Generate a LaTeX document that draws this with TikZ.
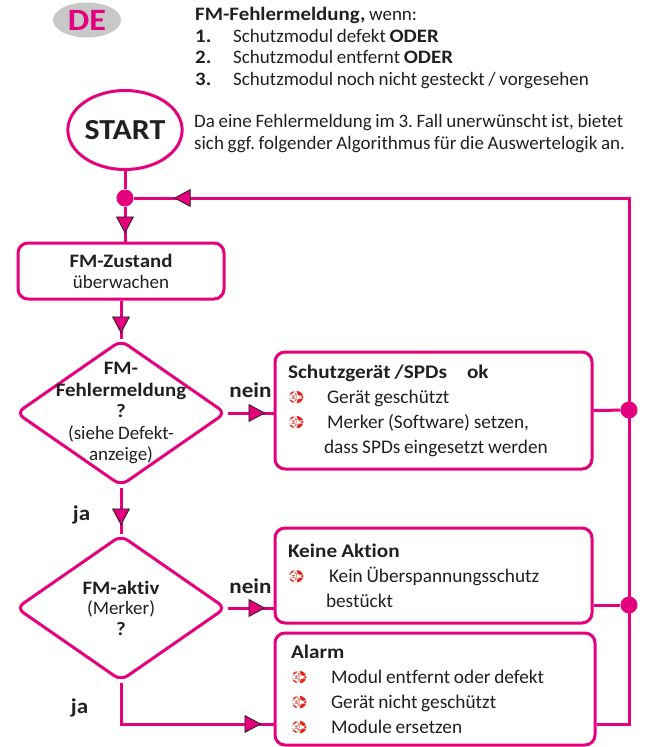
\documentclass[tikz,border=0pt]{standalone}
\usepackage{fontspec}
\setmainfont{Carlito}[Ligatures=CommonOff,WordSpace=0.85,BoldFeatures={FakeStretch=1.1}]
\usetikzlibrary{shapes.geometric,arrows.meta,decorations.markings}
\frenchspacing

\definecolor{fmmag}{HTML}{E5007D}
\definecolor{fmred}{HTML}{E3251B}
\definecolor{fmtext}{HTML}{231F20}
\definecolor{fmgrey}{HTML}{C8C8C8}

% red round arrow bullet
\newcommand{\bul}[1][39pt]{\makebox[#1][l]{\tikz[x=1pt,y=1pt,baseline=-6pt]{%
  \fill[fmred] (0,0) ellipse (7.3 and 6.3);
  \fill[white] (-8,1.4) -- (0.5,1.4) -- (0.5,3.3) -- (4.6,0) -- (0.5,-3.3) -- (0.5,-1.4) -- (-8,-1.4) -- cycle;}}}

\tikzset{
  fmline/.style={draw=fmmag,line width=3pt},
  fmbox/.style={fmline,rectangle,rounded corners=10pt,align=flush left,inner xsep=13pt,font=\fontsize{19.3}{25}\selectfont},
  fmdia/.style={fmline,diamond,rounded corners=8pt,minimum width=210pt,minimum height=146pt,inner sep=0pt},
  fmdot/.style={circle,fill=fmmag,inner sep=0pt,minimum size=17pt},
  fmarr/.style={postaction={decorate},decoration={markings,
    mark=at position #1 with {\arrow{Triangle[width=18pt,length=17pt,line width=0.8pt,color=fmtext,fill=fmmag]}}}},
  fmlab/.style={font=\bfseries\fontsize{21}{21}\selectfont},
}

\begin{document}
\begin{tikzpicture}[x=1pt,y=-1pt,text=fmtext,font=\fontsize{19}{22}\selectfont]
\useasboundingbox (0,0) rectangle (656,747);

% header
\node[ellipse,fill=fmgrey,minimum width=68pt,minimum height=35pt,inner sep=0pt,
  text=fmmag,font=\bfseries\fontsize{31}{31}\selectfont] (de) at (87,20) {DE};
\node[anchor=west,align=flush left,inner sep=0pt,font=\fontsize{19}{21.7}\selectfont] (cases) at (195,48)
  {\textbf{FM-Fehlermeldung,} wenn:\\
   \makebox[38pt][l]{\textbf{1.}}Schutzmodul defekt \textbf{ODER}\\
   \makebox[38pt][l]{\textbf{2.}}Schutzmodul entfernt \textbf{ODER}\\
   \makebox[38pt][l]{\textbf{3.}}Schutzmodul noch nicht gesteckt / vorgesehen};
\node[anchor=west,align=flush left,inner sep=0pt] (note) at (194,134)
  {Da eine Fehlermeldung im 3. Fall unerwünscht ist, bietet\\
   sich ggf. folgender Algorithmus für die Auswertelogik an.};

% flow
\node[fmline,ellipse,minimum width=104pt,minimum height=79pt,inner sep=0pt,
  font=\bfseries\fontsize{29}{29}\selectfont] (start) at (125,130) {START};
\node[fmdot] (j1) at (125,198) {};
\node[fmbox,align=center,minimum width=206pt,minimum height=56pt,font=\fontsize{19}{22}\selectfont] (zustand) at (121,271)
  {\textbf{FM-Zustand}\\[-1pt]überwachen};
\node[fmdia] (d1) at (121,413) {};
\node[align=center,font=\fontsize{19}{21.5}\selectfont] (d1t) at (d1)
  {\textbf{FM-}\\\textbf{Fehlermeldung}\\\textbf{?}\\(siehe Defekt-\\anzeige)};
\node[fmdia] (d2) at (121,608) {};
\node[align=center,font=\fontsize{19}{20.5}\selectfont] (d2t) at (d2)
  {\textbf{FM-aktiv}\\(Merker)\\\textbf{?}};

\node[fmbox,text width=291pt,minimum width=317pt,minimum height=117pt] (ok) at (433.5,410.5)
  {\textbf{Schutzgerät /SPDs\hspace{20pt}ok}\\
   \bul Gerät geschützt\\
   \bul Merker (Software) setzen,\\
   \hspace*{36pt}dass SPDs eingesetzt werden};
\node[fmbox,text width=291pt,minimum width=317pt,minimum height=95pt] (keine) at (433.5,575.5)
  {\textbf{Keine Aktion}\\
   \bul[41pt]Kein Überspannungsschutz\\
   \hspace*{38pt}bestückt};
\node[fmbox,inner xsep=16pt,text width=288pt,minimum width=320pt,minimum height=112pt] (alarm) at (435,689)
  {\textbf{Alarm}\\
   \bul[40pt]Modul entfernt oder defekt\\
   \bul[40pt]Gerät nicht geschützt\\
   \bul[40pt]Module ersetzen};

\node[fmdot] (j2) at (629,410) {};
\node[fmdot] (j3) at (629,605) {};
\coordinate (back) at (629,198);
\coordinate (ain) at (alarm.west |- 0,724);

\draw[fmline] (start) -- (j1);
\draw[fmline,fmarr=-8pt] (j1) -- (j1 |- zustand.north);
\draw[fmline,fmarr=-5pt] (zustand) -- (d1);
\draw[fmline,fmarr=-8pt] (d1.east) -- node[fmlab,above=11pt] (nein1) {nein} (d1.east -| ok.west);
\draw[fmline,fmarr=-8pt] (d1.south) -- node[fmlab,pos=0.6,left=26pt] (ja1) {ja} (d2.north);
\draw[fmline,fmarr=-8pt] (d2.east) -- node[fmlab,above=10pt] (nein2) {nein} (d2.east -| keine.west);
\draw[fmline,fmarr=-12pt] (d2.south) |- node[fmlab,pos=0.3,left=28pt] (ja2) {ja} (ain);

\draw[fmline] (ok.east) -- (j2);
\draw[fmline] (keine.east |- j3) -- (j3);
\draw[fmline,fmarr=-40pt] (alarm.east |- ain) -| (back) -- (j1);
\end{tikzpicture}
\end{document}
